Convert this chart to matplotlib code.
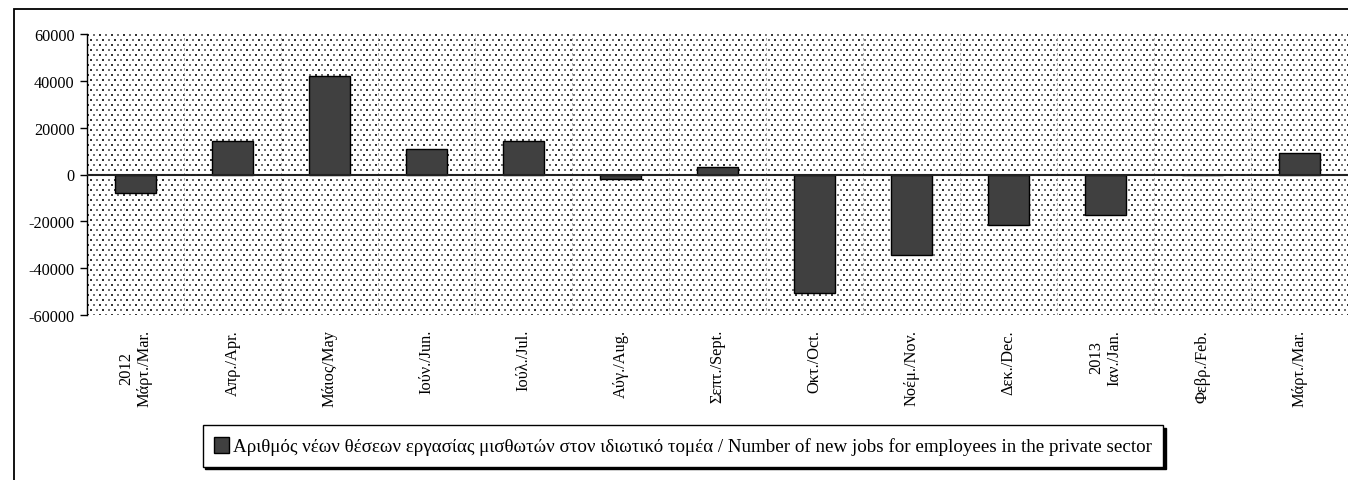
import numpy as np
import matplotlib
matplotlib.use('Agg')
import matplotlib.pyplot as plt
from matplotlib.patches import Rectangle
from matplotlib.ticker import FixedLocator

# Δεδομένα
months = ['2012\nΜάρτ./Mar.', 'Απρ./Apr.', 'Μάιος/May', 'Ιούν./Jun.', 'Ιούλ./Jul.',
          'Αύγ./Aug.', 'Σεπτ./Sept.', 'Οκτ./Oct.', 'Νοέμ./Nov.', 'Δεκ./Dec.',
          '2013\nΙαν./Jan.', 'Φεβρ./Feb.', 'Μάρτ./Mar.']
new_jobs = [-7700, 14500, 41900, 10700, 14100, -2100, 3000,
            -50800, -34400, -21600, -17400, 0, 9100]
yticks = [-60000, -40000, -20000, 0, 20000, 40000, 60000]
legend_label = ('Αριθμός νέων θέσεων εργασίας μισθωτών στον ιδιωτικό τομέα / '
                'Number of new jobs for employees in the private sector')

plt.rcParams['font.family'] = ['Liberation Serif', 'DejaVu Serif']

W, H = 1348, 481
fig = plt.figure(figsize=(W / 100, H / 100), dpi=100)
ax = fig.add_axes([87 / W, 1 - 316 / H, 1 - 87 / W, (316 - 35) / H])

x = np.arange(len(months))
n = len(months)

# Φόντο με κουκκίδες
pw, ph = W - 87, 316 - 35
tex = np.ones((ph, pw))
for r in range(0, ph, 5):
    off = 3 if (r // 5) % 2 else 0
    for i, c in enumerate(range(off, pw, 6)):
        val = 0.2 if i % 2 == 0 else 0.45
        tex[r:r + 2, c:c + 2] = val
ax.imshow(tex, cmap='gray', vmin=0, vmax=1, extent=(-0.5, n - 0.5, -60000, 60000),
          aspect='auto', interpolation='nearest', zorder=0)

ax.bar(x, new_jobs, width=0.42, color='#404040', edgecolor='black', linewidth=1, zorder=3)
ax.axhline(0, color='#222222', linewidth=1.5, zorder=4)

ax.set_xlim(-0.5, n - 0.5)
ax.set_ylim(-60000, 60000)
ax.set_yticks(yticks)
ax.set_yticklabels([str(v) for v in yticks], fontsize=11.7)
ax.set_xticks(x)
ax.set_xticklabels(months, rotation=90, fontsize=11.8, multialignment='center')
ax.xaxis.set_minor_locator(FixedLocator(np.arange(0.5, n - 1, 1)))
ax.grid(True, which='minor', axis='x', color='#a0a0a0', linestyle=(0, (3, 3)), linewidth=0.6, zorder=1)
ax.tick_params(axis='x', length=0, pad=10)
ax.tick_params(axis='x', which='minor', length=0)
ax.tick_params(axis='y', length=5, width=1, direction='out', pad=4)
for s in ['top', 'right', 'bottom']:
    ax.spines[s].set_visible(False)
ax.spines['left'].set_linewidth(1)

# Εξωτερικό πλαίσιο
fig.add_artist(Rectangle((14 / W, -0.5), 2, 0.5 + 1 - 10 / H, transform=fig.transFigure,
                         fill=False, edgecolor='black', linewidth=1.3))

leg = fig.legend([Rectangle((0, 0), 1, 1, facecolor='#404040', edgecolor='black')],
                 [legend_label], loc='center', bbox_to_anchor=(683 / W, 1 - 447 / H),
                 fontsize=13.7, frameon=True, fancybox=False, shadow={'color': 'black', 'alpha': 1},
                 handlelength=0.8, handleheight=0.9, handletextpad=0.2, borderpad=0.6,
                 borderaxespad=0)
leg.get_frame().set_edgecolor('black')
leg.get_frame().set_linewidth(1)

fig.savefig('out.png', dpi=100)
